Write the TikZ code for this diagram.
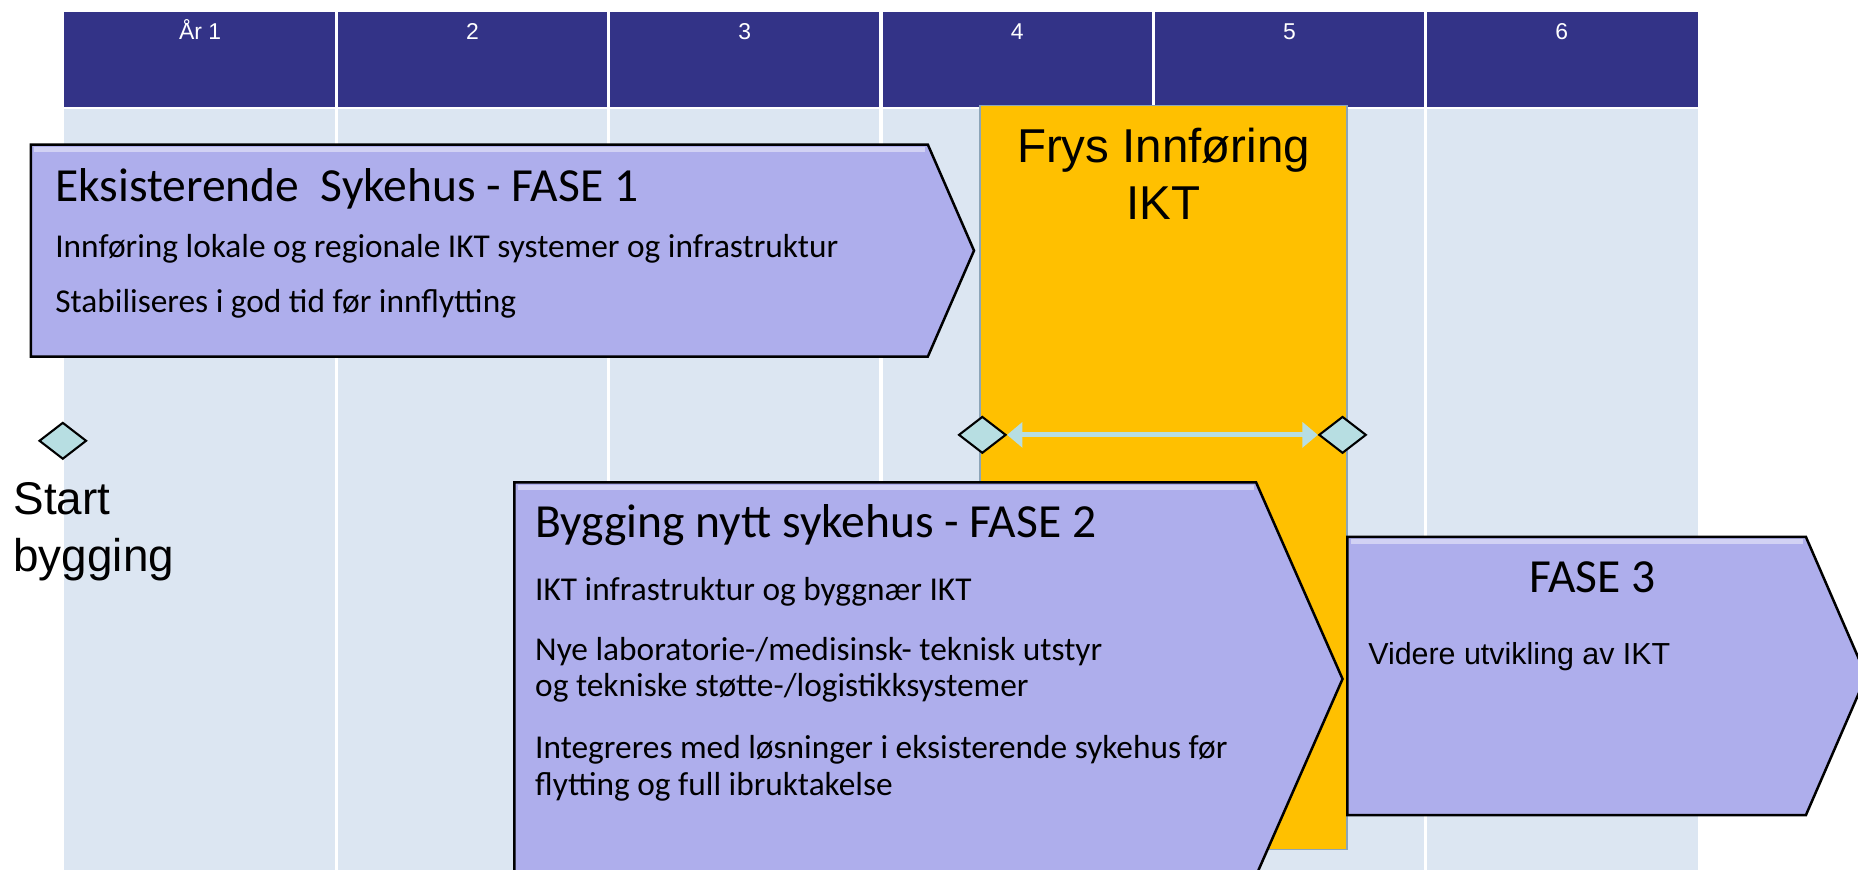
\documentclass[tikz,border=0pt]{standalone}
\usepackage{fontspec}
\setmainfont{Liberation Sans}
\newfontfamily\calibrifont{Carlito}
\usepackage{tikz}
\usetikzlibrary{shapes}
\usetikzlibrary{arrows.meta}
\definecolor{hodeblaa}{RGB}{51,51,135}
\definecolor{feltblaa}{RGB}{220,230,242}
\definecolor{frysgul}{RGB}{255,192,0}
\definecolor{faselilla}{RGB}{174,174,236}
\definecolor{milepelfarge}{RGB}{183,222,226}
\definecolor{rammegraa}{RGB}{140,165,185}
\tikzstyle{fasepil}=[fill=faselilla, draw=black, line width=0.6pt, line join=miter]
\tikzstyle{glans}=[draw=white, opacity=0.45, line width=1.2pt]
\tikzstyle{fasetittel}=[anchor=base west, inner sep=0pt, font=\calibrifont\fontsize{11.4}{13}\selectfont]
\tikzstyle{fasetekst}=[anchor=base west, inner sep=0pt, align=left, font=\calibrifont\fontsize{8}{8.8}\selectfont]
\tikzstyle{aar}=[anchor=base, inner sep=0pt, text=white, font=\fontsize{5.5}{6}\selectfont]
\tikzstyle{stor}=[inner sep=0pt, font=\fontsize{11.4}{13.5}\selectfont]
\tikzstyle{milepel}=[diamond, draw=black, fill=milepelfarge, line width=0.5pt, minimum width=0.4cm, minimum height=0.31cm, inner sep=0pt]
\tikzstyle{frysspenn}=[draw=milepelfarge, line width=1.14pt, {Triangle[length=0.13cm,width=0.21cm]}-{Triangle[length=0.13cm,width=0.21cm]}]
\begin{document}
\begin{tikzpicture}[x=0.01cm,y=-0.01cm]
\useasboundingbox[fill=white] (0,0) rectangle (1568,734);
\fill[feltblaa] (54,92) rectangle (1433,734);
\fill[hodeblaa] (54,10) rectangle (1433,90);
\foreach \i in {1,...,5}
  \draw[white, line width=0.75pt] ({54+229.83*\i},10) -- ({54+229.83*\i},734);
\foreach \i/\t in {1/År 1,2/2,3/3,4/4,5/5,6/6}
  \node[aar] (a\i) at ({54+229.83*(\i-0.5)},33) {\t};
\draw[fill=frysgul, draw=rammegraa, line width=0.4pt] (827,89) rectangle (1137,717);
\node[stor, anchor=base, align=center] (fr) at (982,185) {Frys Innføring\\IKT};
\node[milepel] (m0) at (53,372) {};
\node[milepel] (m1) at (829,367) {};
\node[milepel] (m2) at (1133,367) {};
\draw[frysspenn] (m1.east) -- (m2.west);
\node[stor, anchor=base west, align=left, font=\fontsize{11}{13.66}\selectfont] (st) at (10.7,482.5) {Start\\bygging};
\draw[fasepil] (26,122) -- (783,122) -- (822,211.5) -- (783,301) -- (26,301) -- cycle;
\draw[glans] (29,126) -- (781,126);
\node[fasetittel] (t1) at (46,170) {Eksisterende\ \ Sykehus - FASE 1};
\node[fasetekst] (p11) at (46,217) {Innføring lokale og regionale IKT systemer og infrastruktur};
\node[fasetekst] (p12) at (46,264) {Stabiliseres i god tid før innflytting};
\draw[fasepil] (434,407) -- (1060,407) -- (1133,573) -- (1060,739) -- (434,739) -- cycle;
\draw[glans] (437,411) -- (1058,411);
\node[fasetittel] (t2) at (451,454) {Bygging nytt sykehus - FASE 2};
\node[fasetekst] (p21) at (451,507) {IKT infrastruktur og byggnær IKT};
\node[fasetekst] (p22) at (451,588) {Nye laboratorie-/medisinsk- teknisk utstyr\\og tekniske støtte-/logistikksystemer};
\node[fasetekst] (p23) at (451,671) {Integreres med løsninger i eksisterende sykehus før\\flytting og full ibruktakelse};
\draw[fasepil] (1137,453) -- (1524,453) -- (1575,570.5) -- (1524,688) -- (1137,688) -- cycle;
\draw[glans] (1140,457) -- (1522,457);
\node[fasetittel, anchor=base] (t3) at (1344,500) {FASE 3};
\node[anchor=base west, inner sep=0pt, font=\fontsize{7.3}{8}\selectfont] (p31) at (1154,561) {Videre utvikling av IKT};
\end{tikzpicture}
\end{document}
